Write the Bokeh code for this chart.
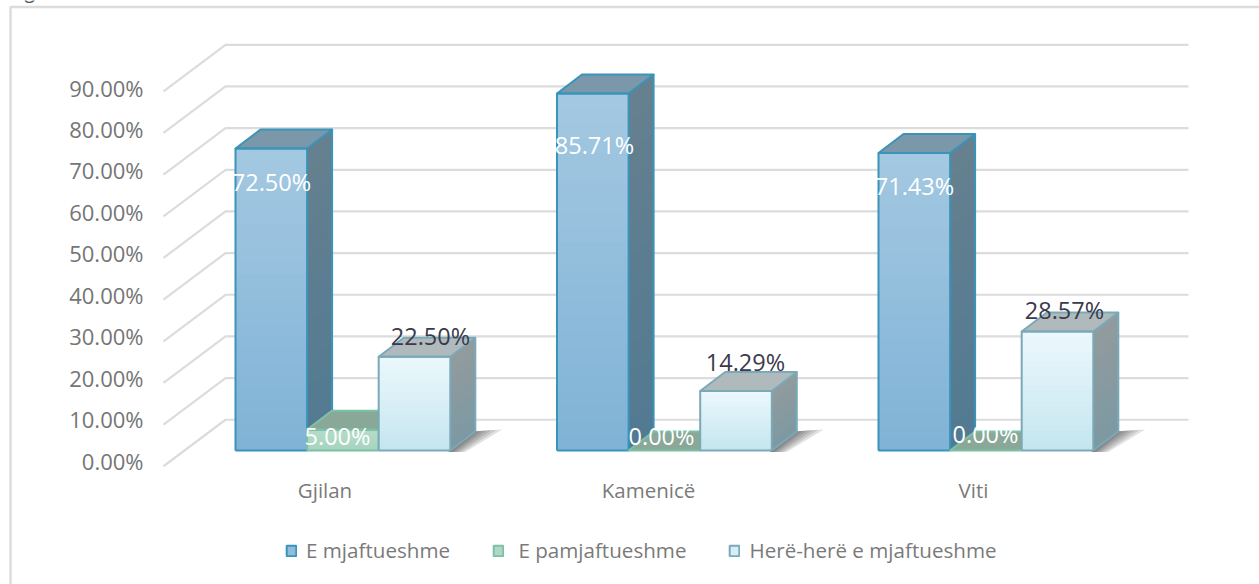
from bokeh.plotting import figure
from bokeh.models import (Range1d, LinearAxis, FixedTicker, PrintfTickFormatter, Legend, LegendItem)
from bokeh.embed import file_html
from bokeh.resources import INLINE
from bokeh.core.properties import value

categories = ["Gjilan", "Kamenicë", "Viti"]
series_names = ["E mjaftueshme", " E pamjaftueshme", "Herë-herë e mjaftueshme"]
e_mjaftueshme = [72.50, 85.71, 71.43]
e_pamjaftueshme = [5.00, 0.00, 0.00]
here_here = [22.50, 14.29, 28.57]
tick_values = [0, 10, 20, 30, 40, 50, 60, 70, 80, 90]

# layout (page pixels)
W, H = 1259, 584
PX = 4.166                     # pixels per percentage point of the bars
BASE = 450                     # page y of the bars' front base
def Y(py):                     # page y -> value coordinate
    return (BASE - py) / PX
DX, DY = 25, 19 / PX           # depth of the 3-D offset
BAR_W = 71.6
GROUP_L = [235, 556.5, 878]
CAT_TICKS = [324.5, 648, 973]
FONT = "Open Sans"

p = figure(width=W, height=H, output_backend="svg", toolbar_location=None,
           x_range=Range1d(0, W), y_range=Range1d(Y(H), Y(0)),
           y_axis_location=None, min_border=0, margin=0, outline_line_color=None)
p.grid.visible = False
p.background_fill_color = "white"
p.border_fill_color = "white"

# value axis, spaced as in the reference
S = 4.144
p.extra_y_ranges = {"ticks": Range1d((460 - H) / S, 460 / S)}
ax = LinearAxis(y_range_name="ticks", ticker=FixedTicker(ticks=tick_values),
                formatter=PrintfTickFormatter(format="%.2f%%"),
                major_label_standoff=-149, major_tick_line_color=None, minor_tick_line_color=None,
                axis_line_color=None, major_label_text_color="#757575",
                major_label_text_font=FONT, major_label_text_font_size="22px")
p.add_layout(ax, "left")

xa = p.xaxis[0]
xa.ticker = FixedTicker(ticks=CAT_TICKS)
xa.major_label_overrides = dict(zip(CAT_TICKS, categories))
xa.major_tick_line_color = None
xa.minor_tick_line_color = None
xa.axis_line_color = None
xa.major_label_standoff = -(H - 469)
xa.major_label_text_color = "#7a7a7a"
xa.major_label_text_font = FONT
xa.major_label_text_font_size = "20.5px"

# chart border
p.line([10, 10, W + 5], [Y(H + 5), Y(6.5), Y(6.5)], line_color="#dcdcdc", line_width=2.4)

# gridlines: wall and floor-side diagonal
GRID_OFF = 7.38
DIAG = 46.5 / PX
gx, gy = [], []
for t in tick_values:
    gx.append([163, 225, 1188])
    gy.append([t + GRID_OFF - DIAG, t + GRID_OFF, t + GRID_OFF])
p.multi_line(gx, gy, line_color="#dcdcdc", line_width=2.2)

def lerp(a, b, t):
    a = [int(a[i:i + 2], 16) for i in (1, 3, 5)]
    b = [int(b[i:i + 2], 16) for i in (1, 3, 5)]
    return "#%02x%02x%02x" % tuple(round(u + (v - u) * t) for u, v in zip(a, b))

STYLES = [
    dict(ft="#a3c8e1", fb="#7fb2d6", st="#66808f", sb="#517a93", top="#7b97aa", edge="#3a93b8"),
    dict(ft="#b4dbc9", fb="#a5d4bf", st="#8aa899", sb="#8aa899", top="#89a898", edge="#7cc0a5"),
    dict(ft="#ebf8fd", fb="#c4e5ee", st="#929b9d", sb="#7c99a3", top="#b0babd", edge="#7aa9b7"),
]
N = 24

def shadow(x1):
    for a in (30, 24, 18, 12, 7, 3):
        xs = [x1 - 12 - a * 2.2, x1 - 2, x1 + DX - 2, x1 + DX + a * 0.9, x1 + a * 0.5]
        ys = [Y(451.5), Y(451.5), Y(431), Y(429 + (30 - a) * 0.05), Y(451.5)]
        p.patch(xs, ys, fill_color="#2f2f2f", fill_alpha=.14, line_color=None)

def bar(x0, v, st):
    x1 = x0 + BAR_W
    if v > 0:
        fx, fy, fc, sx, sy, sc = [], [], [], [], [], []
        for j in range(N):
            h = v * (1 - j / N)
            c = j / N
            fx.append([x0, x1, x1, x0]); fy.append([0, 0, h, h])
            fc.append(lerp(st["ft"], st["fb"], c))
            sx.append([x1, x1 + DX, x1 + DX, x1]); sy.append([0, DY, h + DY, h])
            sc.append(lerp(st["st"], st["sb"], c))
        p.patches(sx, sy, fill_color=sc, line_color=None)
        p.patches(fx, fy, fill_color=fc, line_color=None)
        p.line([x1, x1 + DX, x1 + DX, x1], [0, DY, v + DY, v], line_color=st["edge"], line_width=2)
    p.patch([x0, x1, x1 + DX, x0 + DX], [v, v, v + DY, v + DY], fill_color=st["top"],
            line_color=st["edge"], line_width=2, line_join="round")
    if v > 0:
        p.line([x0, x1, x1, x0, x0], [0, 0, v, v, 0], line_color=st["edge"], line_width=2)

for i in range(3):
    x0 = GROUP_L[i]
    w = BAR_W
    bar(x0, e_mjaftueshme[i], STYLES[0])
    bar(x0 + w, e_pamjaftueshme[i], STYLES[1])
    shadow(x0 + 3 * w)
    bar(x0 + 2 * w, here_here[i], STYLES[2])

# data labels (page positions of the centres)
lab_x = [271, 594, 914, 337, 661, 985, 430, 745, 1064]
lab_y = [181, 144, 185, 435, 435, 433, 335, 361, 309]
lab_t = e_mjaftueshme + e_pamjaftueshme + here_here
lab_c = ["white"] * 6 + ["#3b3a4c"] * 3
p.text(lab_x, [Y(y) for y in lab_y], text=["%.2f%%" % v for v in lab_t], text_color=lab_c,
       text_font=value(FONT), text_font_size="23.5px", text_align="center", text_baseline="middle")

# legend (its swatches take their look from off-page quads)
dummies = []
for st in STYLES:
    dummies.append(p.quad(left=[-50], right=[-40], top=[-60], bottom=[-70],
                          fill_color=lerp(st["ft"], st["fb"], .5),
                          line_color=st["edge"], line_width=2))
legend = Legend(items=[LegendItem(label=n, renderers=[r]) for n, r in zip(series_names, dummies)],
                orientation="horizontal", location=(285, 20),
                glyph_width=12, glyph_height=13, label_standoff=9, spacing=42, padding=8, margin=0,
                border_line_color=None, background_fill_alpha=0,
                label_text_font=FONT, label_text_font_size="20.6px", label_text_color="#7a7a7a")
p.add_layout(legend, "center")

# clipped caption
p.text([10], [Y(-11)], text=["Figura 9"], text_font=value(FONT), text_font_style="italic",
       text_font_size="21px", text_color="#44546a", text_baseline="alphabetic")

open("out.html", "w").write(file_html(p, INLINE))
